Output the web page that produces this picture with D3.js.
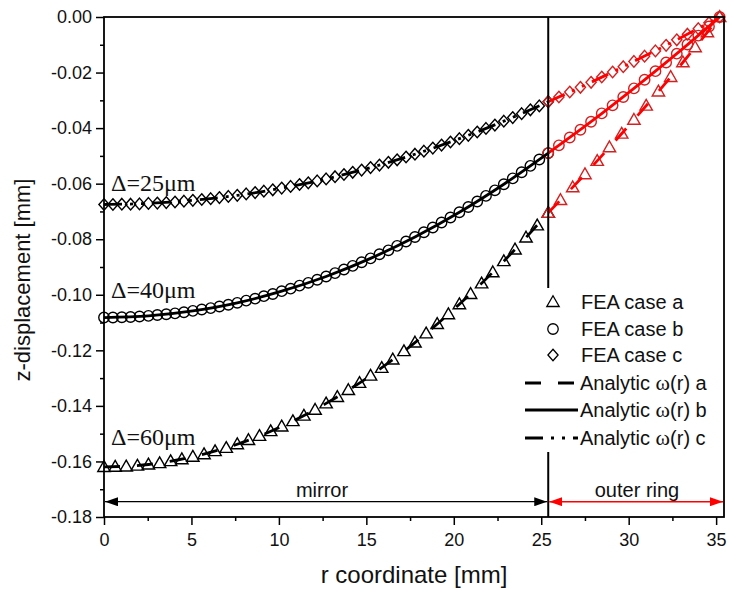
<!DOCTYPE html>
<html>
<head>
<meta charset="utf-8">
<script src="https://cdn.jsdelivr.net/npm/d3@7/dist/d3.min.js"></script>
<style>
  html, body { margin: 0; padding: 0; background: #fff; }
  svg { display: block; }
</style>
</head>
<body>
<svg id="chart" width="729" height="590"></svg>
<script>
// Radial node positions of the FEA model inside the mirror [mm]
const rMirror = [0.00,0.51,1.02,1.52,2.03,2.54,3.05,3.56,4.06,4.57,5.08,5.59,6.10,6.60,7.11,7.62,8.13,8.64,9.14,9.65,
  10.16,10.67,11.18,11.68,12.19,12.70,13.21,13.72,14.22,14.73,15.24,15.75,16.26,16.76,17.27,17.78,18.29,18.80,19.30,19.81,
  20.32,20.83,21.34,21.84,22.35,22.86,23.37,23.88,24.38,24.89,25.40];
const rMirrorA = [0.00,0.64,1.27,1.91,2.54,3.18,3.81,4.45,5.08,5.72,6.35,6.99,7.62,8.26,8.89,9.53,10.16,10.80,11.43,12.07,
  12.70,13.34,13.97,14.61,15.24,15.88,16.51,17.15,17.78,18.42,19.05,19.69,20.32,20.96,21.59,22.23,22.86,23.50,24.13,24.77,25.40];

// FEA z-displacement in the mirror [mm]
const feaMirrorC = [-0.0675,-0.0675,-0.0674,-0.0674,-0.0673,-0.0671,-0.0670,-0.0668,-0.0666,-0.0663,-0.0660,-0.0657,-0.0654,
  -0.0650,-0.0646,-0.0642,-0.0637,-0.0632,-0.0627,-0.0622,-0.0616,-0.0610,-0.0603,-0.0597,-0.0590,-0.0583,-0.0575,-0.0567,
  -0.0559,-0.0551,-0.0542,-0.0533,-0.0523,-0.0514,-0.0504,-0.0494,-0.0483,-0.0472,-0.0461,-0.0450,-0.0438,-0.0426,-0.0414,
  -0.0401,-0.0389,-0.0375,-0.0362,-0.0348,-0.0334,-0.0320,-0.0305];
const feaMirrorB = [-0.1082,-0.1082,-0.1081,-0.1080,-0.1078,-0.1076,-0.1073,-0.1070,-0.1067,-0.1063,-0.1058,-0.1053,-0.1048,
  -0.1042,-0.1036,-0.1029,-0.1021,-0.1014,-0.1005,-0.0997,-0.0987,-0.0978,-0.0967,-0.0957,-0.0946,-0.0934,-0.0922,-0.0909,
  -0.0896,-0.0883,-0.0869,-0.0854,-0.0840,-0.0824,-0.0808,-0.0792,-0.0775,-0.0758,-0.0740,-0.0722,-0.0703,-0.0684,-0.0664,
  -0.0644,-0.0624,-0.0602,-0.0581,-0.0559,-0.0536,-0.0513,-0.0490];
const feaMirrorA = [-0.1620,-0.1619,-0.1618,-0.1615,-0.1611,-0.1606,-0.1599,-0.1592,-0.1583,-0.1574,-0.1563,-0.1551,-0.1538,
  -0.1523,-0.1508,-0.1491,-0.1474,-0.1455,-0.1435,-0.1414,-0.1391,-0.1368,-0.1343,-0.1317,-0.1291,-0.1263,-0.1233,-0.1203,
  -0.1172,-0.1139,-0.1105,-0.1070,-0.1034,-0.0997,-0.0959,-0.0919,-0.0879,-0.0837,-0.0794,-0.0750,-0.0705];

// FEA nodes and z-displacement in the outer ring
const rRing = [25.40,26.01,26.63,27.24,27.85,28.46,29.08,29.69,30.30,30.91,31.53,32.14,32.75,33.36,33.98,34.59,35.20];
const feaRingC = [-0.0305,-0.0288,-0.0270,-0.0253,-0.0235,-0.0216,-0.0198,-0.0179,-0.0160,-0.0141,-0.0122,-0.0102,
  -0.0082,-0.0062,-0.0042,-0.0021,0.0000];
const feaRingB = [-0.0490,-0.0462,-0.0434,-0.0406,-0.0377,-0.0347,-0.0318,-0.0288,-0.0257,-0.0226,-0.0195,-0.0164,
  -0.0132,-0.0099,-0.0067,-0.0034,0.0000];
const rRingA = [25.4,26.1,26.8,27.5,28.2,28.9,29.6,30.3,31.0,31.7,32.4,33.1,33.8,34.5,35.2];
const feaRingA = [-0.0705,-0.0659,-0.0613,-0.0566,-0.0518,-0.0469,-0.0420,-0.0370,-0.0319,-0.0268,-0.0216,-0.0163,
  -0.0109,-0.0055,0.0000];

// Analytic solution ω(r)
const rAnalyticMirror = [0, 2.54, 5.08, 7.62, 10.16, 12.70, 15.24, 17.78, 20.32, 22.86, 25.40];
const analyticMirrorA = [-0.1620,-0.1611,-0.1583,-0.1538,-0.1474,-0.1391,-0.1291,-0.1172,-0.1034,-0.0879,-0.0705];
const analyticMirrorB = [-0.1082,-0.1076,-0.1058,-0.1029,-0.0987,-0.0934,-0.0869,-0.0792,-0.0703,-0.0602,-0.0490];
const analyticMirrorC = [-0.0675,-0.0671,-0.0660,-0.0642,-0.0616,-0.0583,-0.0542,-0.0494,-0.0438,-0.0375,-0.0305];
const rAnalyticRing = [25.40, 27.85, 30.30, 32.75, 35.20];
const analyticRingA = [-0.0705,-0.0542,-0.0370,-0.0190,0.0000];
const analyticRingB = [-0.0490,-0.0377,-0.0257,-0.0132,0.0000];
const analyticRingC = [-0.0305,-0.0235,-0.0160,-0.0082,0.0000];

const mirrorRadius = 25.4;
const xTicks = [0, 5, 10, 15, 20, 25, 30, 35];
const yTicks = [0, -0.02, -0.04, -0.06, -0.08, -0.10, -0.12, -0.14, -0.16, -0.18];
const caseLabels = ["Δ=25μm", "Δ=40μm", "Δ=60μm"];
const caseLabelValues = [-0.0625, -0.1010, -0.1540];
const feaLegend = ["FEA case a", "FEA case b", "FEA case c"];
const analyticLegendSuffix = ["a", "b", "c"];

const svg = d3.select("#chart");
const pL = 104, pR = 724, pT = 17, pB = 517;
const x = d3.scaleLinear().domain([0, 35.45]).range([pL, pR]);
const y = d3.scaleLinear().domain([-0.18, 0]).range([pB, pT]);

const sans = "'Liberation Sans', Arial, sans-serif";
const serif = "'Liberation Serif', 'Times New Roman', serif";
const RED_LINE = "#ff0000", RED_MARK = "#d42020";

const dashA = "16,17", dashC = "18,8,3,8,3,8";
const symbols = {
  tri: "M0,-6.3L6.2,4.5L-6.2,4.5Z",
  circ: d3.symbol(d3.symbolCircle, 86)(),
  dia: "M0,-5.8L5.1,0L0,5.8L-5.1,0Z"
};

// Axes
const xAxis = d3.axisBottom(x).tickValues(xTicks).tickSize(8).tickPadding(8).tickFormat(d3.format("d"));
const xMinor = d3.axisBottom(x).tickValues(d3.range(2.5, 35.45, 5)).tickSize(4).tickFormat("");
const yAxis = d3.axisLeft(y).tickValues(yTicks).tickSize(8).tickPadding(4).tickFormat(d => d.toFixed(2));
const yMinor = d3.axisLeft(y).tickValues(d3.range(-0.17, 0, 0.02)).tickSize(4).tickFormat("");

function styleAxis(g) {
  g.select(".domain").remove();
  g.selectAll(".tick line").attr("stroke", "#000").attr("stroke-width", 1.5);
  g.selectAll(".tick text").attr("font-family", sans).attr("font-size", 18).attr("fill", "#111");
}
svg.append("g").attr("transform", `translate(0,${pB})`).call(xAxis).call(styleAxis);
svg.append("g").attr("transform", `translate(0,${pB})`).call(xMinor).call(styleAxis);
svg.append("g").attr("transform", `translate(${pL},0)`).call(yAxis).call(styleAxis);
svg.append("g").attr("transform", `translate(${pL},0)`).call(yMinor).call(styleAxis);

// Axis titles
svg.append("text").attr("x", (pL + pR) / 2).attr("y", 583).attr("text-anchor", "middle")
  .attr("font-family", sans).attr("font-size", 24).attr("fill", "#111").text("r coordinate [mm]");
svg.append("text").attr("transform", `translate(30,280) rotate(-90)`).attr("text-anchor", "middle")
  .attr("font-family", sans).attr("font-size", 22).attr("fill", "#111").text("z-displacement [mm]");

const plot = svg.append("g");

// FEA markers
function markers(rs, vs, shape, color) {
  plot.append("g").selectAll("path").data(rs).join("path")
    .attr("transform", (r, i) => `translate(${x(r)},${y(vs[i])})`)
    .attr("d", symbols[shape]).attr("fill", "none").attr("stroke", color).attr("stroke-width", 1.4);
}
markers(rMirrorA, feaMirrorA, "tri", "#000");
markers(rMirror, feaMirrorB, "circ", "#000");
markers(rMirror, feaMirrorC, "dia", "#000");
markers(rRingA, feaRingA, "tri", RED_MARK);
markers(rRing, feaRingB, "circ", RED_MARK);
markers(rRing, feaRingC, "dia", RED_MARK);

// Analytic curves
const line = d3.line().x(d => x(d[0])).y(d => y(d[1])).curve(d3.curveMonotoneX);
function curve(rs, vs, color, dash) {
  plot.append("path").datum(rs.map((r, i) => [r, vs[i]])).attr("d", line)
    .attr("fill", "none").attr("stroke", color).attr("stroke-width", 2.8)
    .attr("stroke-dasharray", dash).attr("stroke-linecap", "butt");
}
curve(rAnalyticMirror, analyticMirrorA, "#000", dashA);
curve(rAnalyticMirror, analyticMirrorB, "#000", null);
curve(rAnalyticMirror, analyticMirrorC, "#000", dashC);
curve(rAnalyticRing, analyticRingA, RED_LINE, dashA);
curve(rAnalyticRing, analyticRingB, RED_LINE, null);
curve(rAnalyticRing, analyticRingC, RED_LINE, dashC);

// Mirror edge
svg.append("line").attr("x1", x(mirrorRadius)).attr("x2", x(mirrorRadius)).attr("y1", pT).attr("y2", pB)
  .attr("stroke", "#000").attr("stroke-width", 2);

// Case labels
svg.append("g").selectAll("text").data(caseLabels).join("text")
  .attr("x", 111).attr("y", (d, i) => y(caseLabelValues[i]))
  .attr("font-family", serif).attr("font-size", 24).attr("fill", "#111").text(d => d);

// Region arrows
const defs = svg.append("defs");
function arrowHead(id, color) {
  const m = defs.append("marker").attr("id", id).attr("viewBox", "0 0 13 9").attr("refX", 13).attr("refY", 4.5)
    .attr("markerWidth", 13).attr("markerHeight", 9).attr("markerUnits", "userSpaceOnUse").attr("orient", "auto-start-reverse");
  m.append("path").attr("d", "M0,0L13,4.5L0,9Z").attr("fill", color);
}
arrowHead("ah-black", "#000");
arrowHead("ah-red", RED_LINE);
const arrowY = y(-0.1745);
svg.append("line").attr("x1", x(0) + 1).attr("x2", x(mirrorRadius) - 1).attr("y1", arrowY).attr("y2", arrowY)
  .attr("stroke", "#000").attr("stroke-width", 1.2)
  .attr("marker-start", "url(#ah-black)").attr("marker-end", "url(#ah-black)");
svg.append("line").attr("x1", x(mirrorRadius) + 1).attr("x2", pR - 1).attr("y1", arrowY).attr("y2", arrowY)
  .attr("stroke", RED_LINE).attr("stroke-width", 1.5)
  .attr("marker-start", "url(#ah-red)").attr("marker-end", "url(#ah-red)");
svg.append("text").attr("x", 322).attr("y", 497).attr("text-anchor", "middle")
  .attr("font-family", sans).attr("font-size", 20).attr("fill", "#111").text("mirror");
svg.append("text").attr("x", 637).attr("y", 497).attr("text-anchor", "middle")
  .attr("font-family", sans).attr("font-size", 20).attr("fill", "#111").text("outer ring");

// Legend
const lg = svg.append("g");
lg.append("rect").attr("x", 520).attr("y", 288).attr("width", 202).attr("height", 164).attr("fill", "#fff");
const rowY = [302, 329, 355, 383, 410, 438];
["tri", "circ", "dia"].forEach((s, i) => {
  lg.append("path").attr("transform", `translate(553,${rowY[i]})`).attr("d", symbols[s])
    .attr("fill", "none").attr("stroke", "#000").attr("stroke-width", 1.3);
  lg.append("text").attr("x", 581).attr("y", rowY[i] + 7)
    .attr("font-family", sans).attr("font-size", 20).attr("fill", "#111").text(feaLegend[i]);
});
[dashA, null, dashC].forEach((dash, i) => {
  const yy = rowY[3 + i];
  lg.append("line").attr("x1", 525).attr("x2", 578).attr("y1", yy).attr("y2", yy)
    .attr("stroke", "#000").attr("stroke-width", 2.8).attr("stroke-dasharray", dash);
  const t = lg.append("text").attr("x", 580).attr("y", yy + 7)
    .attr("font-family", sans).attr("font-size", 20).attr("fill", "#111");
  t.append("tspan").text("Analytic ");
  t.append("tspan").attr("font-family", serif).attr("font-size", 22).text("ω");
  t.append("tspan").text(`(r) ${analyticLegendSuffix[i]}`);
});

// Frame
svg.append("rect").attr("x", pL).attr("y", pT).attr("width", pR - pL).attr("height", pB - pT)
  .attr("fill", "none").attr("stroke", "#000").attr("stroke-width", 1.8);
</script>
</body>
</html>
